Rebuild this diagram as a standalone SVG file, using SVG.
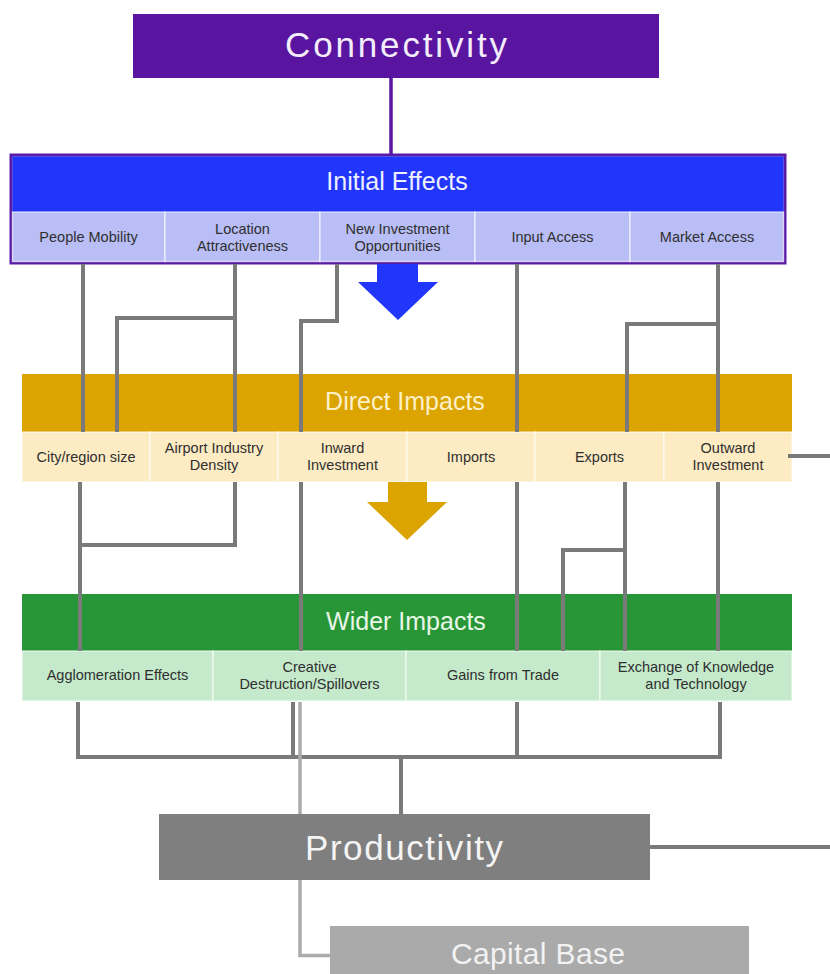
<svg xmlns="http://www.w3.org/2000/svg" width="830" height="974" viewBox="0 0 830 974">
<style>
  text { font-family: "Liberation Sans", Arial, sans-serif; }
  .big { font-size: 35px; text-anchor: middle; }
  .hdr { font-size: 25px; text-anchor: middle; }
  .sub { font-size: 14.5px; text-anchor: middle; fill: #2f2f2f; }
  .cell { stroke: #ffffff; stroke-opacity: 0.6; stroke-width: 1.5; }
  .ln { fill: none; stroke: #7a7a7a; stroke-width: 4; stroke-linejoin: miter; }
  .lt { fill: none; stroke: #ababab; stroke-width: 3.5; }
</style>
<rect width="830" height="974" fill="#ffffff"/>

<g id="connectivity">
  <rect x="133" y="14" width="526" height="64" fill="#5914a0"/>
  <text class="big" x="396" y="57" fill="#f3ecfb" textLength="222" lengthAdjust="spacing">Connectivity</text>
</g>

<g id="initial-effects">
  <rect x="11" y="155" width="774" height="108" fill="#b9bef6" stroke="#5a1aa5" stroke-width="3"/>
  <rect x="12.5" y="156.5" width="771" height="55.5" fill="#2236fb"/>
  <text class="hdr" x="397" y="190" fill="#eef0ff">Initial Effects</text>
  <g>
    <rect class="cell" x="12.5" y="212" width="152.5" height="49.5" fill="#b9bef6"/>
    <rect class="cell" x="165" y="212" width="155" height="49.5" fill="#b9bef6"/>
    <rect class="cell" x="320" y="212" width="155" height="49.5" fill="#b9bef6"/>
    <rect class="cell" x="475" y="212" width="155" height="49.5" fill="#b9bef6"/>
    <rect class="cell" x="630" y="212" width="153.5" height="49.5" fill="#b9bef6"/>
  </g>
  <text class="sub" x="88.5" y="242">People Mobility</text>
  <text class="sub" x="242.5" y="234">Location</text>
  <text class="sub" x="242.5" y="251">Attractiveness</text>
  <text class="sub" x="397.5" y="234">New Investment</text>
  <text class="sub" x="397.5" y="251">Opportunities</text>
  <text class="sub" x="552.5" y="242">Input Access</text>
  <text class="sub" x="707" y="242">Market Access</text>
</g>

<g id="arrow-initial">
  <polygon points="377,264 418,264 418,282 438,282 398,320 358,282 377,282" fill="#2236fb"/>
</g>

<g id="direct-impacts">
  <rect x="22" y="374" width="770" height="58" fill="#dba400"/>
  <text class="hdr" x="405" y="410" fill="#fdf0c8">Direct Impacts</text>
  <g>
    <rect class="cell" x="22" y="432" width="128" height="50" fill="#fcebc3"/>
    <rect class="cell" x="150" y="432" width="128" height="50" fill="#fcebc3"/>
    <rect class="cell" x="278" y="432" width="129" height="50" fill="#fcebc3"/>
    <rect class="cell" x="407" y="432" width="128" height="50" fill="#fcebc3"/>
    <rect class="cell" x="535" y="432" width="129" height="50" fill="#fcebc3"/>
    <rect class="cell" x="664" y="432" width="128" height="50" fill="#fcebc3"/>
  </g>
  <text class="sub" x="86" y="462">City/region size</text>
  <text class="sub" x="214" y="453">Airport Industry</text>
  <text class="sub" x="214" y="470">Density</text>
  <text class="sub" x="342.5" y="453">Inward</text>
  <text class="sub" x="342.5" y="470">Investment</text>
  <text class="sub" x="471" y="462">Imports</text>
  <text class="sub" x="599.5" y="462">Exports</text>
  <text class="sub" x="728" y="453">Outward</text>
  <text class="sub" x="728" y="470">Investment</text>
</g>

<g id="arrow-direct">
  <polygon points="388,482 427,482 427,502 447,502 407,540 367,502 388,502" fill="#dba400"/>
</g>

<g id="wider-impacts">
  <rect x="22" y="594" width="770" height="57" fill="#289637"/>
  <text class="hdr" x="406" y="630" fill="#e8f6e8">Wider Impacts</text>
  <g>
    <rect class="cell" x="22" y="651" width="191" height="50" fill="#c4eacb"/>
    <rect class="cell" x="213" y="651" width="193" height="50" fill="#c4eacb"/>
    <rect class="cell" x="406" y="651" width="194" height="50" fill="#c4eacb"/>
    <rect class="cell" x="600" y="651" width="192" height="50" fill="#c4eacb"/>
  </g>
  <text class="sub" x="117.5" y="680">Agglomeration Effects</text>
  <text class="sub" x="309.5" y="672">Creative</text>
  <text class="sub" x="309.5" y="689">Destruction/Spillovers</text>
  <text class="sub" x="503" y="680">Gains from Trade</text>
  <text class="sub" x="696" y="672">Exchange of Knowledge</text>
  <text class="sub" x="696" y="689">and Technology</text>
</g>

<g id="productivity">
  <rect x="159" y="814" width="491" height="66" fill="#7f7f7f"/>
  <text class="big" x="404" y="860" fill="#f4f4f4" textLength="198" lengthAdjust="spacing">Productivity</text>
</g>

<g id="capital-base">
  <rect x="330" y="926" width="419" height="48" fill="#aaaaaa"/>
  <text x="538" y="964" font-size="30" text-anchor="middle" fill="#f2f2f2" textLength="174" lengthAdjust="spacing">Capital Base</text>
</g>

<g id="connectors">
  <line x1="391" y1="78" x2="391" y2="154" stroke="#5a17a2" stroke-width="3.5"/>
  <path class="ln" d="M83,264 V432"/>
  <path class="ln" d="M235,264 V432 M235,318 H117 V432"/>
  <path class="ln" d="M337,264 V321 H301 V432"/>
  <path class="ln" d="M517,264 V432"/>
  <path class="ln" d="M718,264 V432 M718,324 H627 V432"/>
  <path class="ln" d="M80,482 V651 M235,482 V545 H80"/>
  <path class="ln" d="M301,482 V651"/>
  <path class="ln" d="M517,482 V651"/>
  <path class="ln" d="M625,482 V651 M625,550 H563 V651"/>
  <path class="ln" d="M718,482 V651"/>
  <path class="ln" d="M788,456 H830"/>
  <path class="ln" d="M78,702 V757 H720 V702"/>
  <path class="ln" d="M293,702 V757 M517,702 V757 M401,757 V814"/>
  <path class="ln" d="M650,847 H830"/>
  <path class="lt" d="M300,702 V814"/>
  <path class="lt" d="M300,880 V955.5 H330"/>
</g>
</svg>
